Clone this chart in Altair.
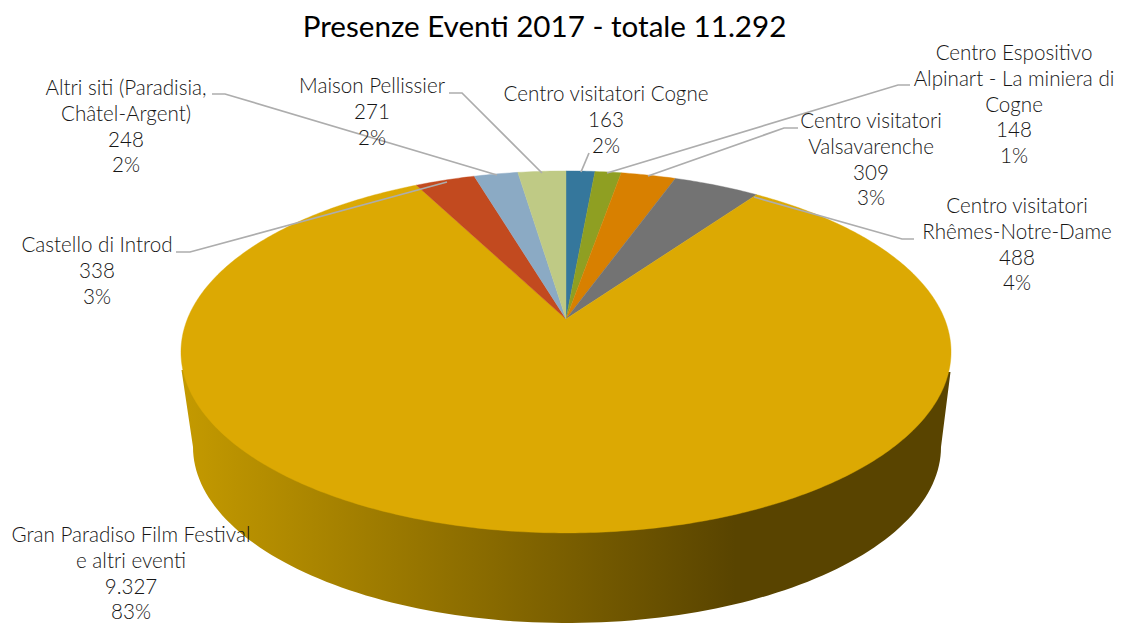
import altair as alt
import numpy as np
import pandas as pd

# ---- values
names = ["Centro visitatori Cogne", "Centro Espositivo Alpinart - La miniera di Cogne",
         "Centro visitatori Valsavarenche", "Centro visitatori Rhêmes-Notre-Dame",
         "Gran Paradiso Film Festival e altri eventi", "Castello di Introd",
         "Altri siti (Paradisia, Châtel-Argent)", "Maison Pellissier"]
values = [163, 148, 309, 488, 9327, 338, 248, 271]
value_text = ["163", "148", "309", "488", "9.327", "338", "248", "271"]
percent_text = ["2%", "1%", "3%", "4%", "83%", "3%", "2%", "2%"]
label_lines = [["Centro visitatori Cogne"],
               ["Centro Espositivo", "Alpinart - La miniera di", "Cogne"],
               ["Centro visitatori", "Valsavarenche"],
               ["Centro visitatori", "Rhêmes-Notre-Dame"],
               ["Gran Paradiso Film Festival", "e altri eventi"],
               ["Castello di Introd"],
               ["Altri siti (Paradisia,", "Châtel-Argent)"],
               ["Maison Pellissier"]]
colors = ["#35779C", "#8F9F22", "#D88000", "#737373", "#DCA903", "#C24A1F", "#8BAAC4", "#BFCA85"]
title_text = "Presenze Eventi 2017 - totale 11.292"

# ---- layout (page pixels)
FONT = "Lato"
CX, CY = 566, 319
K, A, B = 0.182, 175, 378.6
label_x = [606, 1014, 871, 1017, 131, 97, 126, 372]
label_y = [95, 54, 122, 207, 536, 246, 89, 87]
LINE_H = 25.8
leaders = [[(589, 153), (581, 172)],
           [(910, 85), (898, 85), (607, 173)],
           [(798, 128), (784, 128), (648, 176)],
           [(914, 239), (902, 239), (754, 197)],
           [],
           [(176, 252), (190, 252), (447, 182)],
           [(212, 94), (225, 94), (497, 175)],
           [(449, 93), (462, 93), (542, 173)]]


def project(t):
    X, Y = np.sin(t), -np.cos(t)
    d = 1 - K * Y
    return CX + B * X / d, CY + A * Y / d


# ---- slices from the values
total = sum(values)
rows = []
start = 0.0
for i, v in enumerate(values):
    end = start + v / total * 2 * np.pi
    ts = np.linspace(start, end, max(3, int((end - start) * 90)))
    xs, ys = project(ts)
    pts = [(CX, CY)] + list(zip(xs, ys)) + [(CX, CY)]
    for o, (x, y) in enumerate(pts):
        rows.append({"name": names[i], "x": float(x), "y": float(y), "o": o})
    start = end
slices = pd.DataFrame(rows)

# ---- side wall
LOW_CX, LOW_CY, LOW_RX, LOW_RY = 567, 447, 374, 176
wall_t = np.linspace(0, np.pi, 120)
wall_pts = [(950.5, 372)] + [(LOW_CX + LOW_RX * np.cos(t), LOW_CY + LOW_RY * np.sin(t)) for t in wall_t] + [(181.5, 370)]
wall = pd.DataFrame([{"x": float(x), "y": float(y), "o": o} for o, (x, y) in enumerate(wall_pts)])

# ---- leaders and labels
lead_rows = []
for i, line in enumerate(leaders):
    for o, (x, y) in enumerate(line):
        lead_rows.append({"id": i, "x": x, "y": y, "o": o})
lead = pd.DataFrame(lead_rows)

text_rows = []
for i in range(len(values)):
    lines = label_lines[i] + [value_text[i], percent_text[i]]
    for j, s in enumerate(lines):
        text_rows.append({"t": s, "x": label_x[i], "y": label_y[i] + j * LINE_H})
texts = pd.DataFrame(text_rows)

W, H = 1109, 616
xs = alt.Scale(domain=[8, 8 + W], nice=False, zero=False)
ys = alt.Scale(domain=[8 + H, 8], nice=False, zero=False)
X = alt.X("x:Q", scale=xs, axis=None)
Y = alt.Y("y:Q", scale=ys, axis=None)

grad = alt.Gradient(gradient="linear", x1=0, x2=1, y1=0, y2=0,
                    stops=[alt.GradientStop(offset=0, color="#C49A00"),
                           alt.GradientStop(offset=0.72, color="#594400"),
                           alt.GradientStop(offset=1, color="#594400")])

wall_layer = alt.Chart(wall).mark_line(filled=True, fill=grad, stroke=None).encode(x=X, y=Y, order="o:Q")
slice_layer = alt.Chart(slices).mark_line(filled=True, strokeWidth=0.4).encode(
    x=X, y=Y, order="o:Q",
    fill=alt.Fill("name:N", scale=alt.Scale(domain=names, range=colors), legend=None),
    stroke=alt.Stroke("name:N", scale=alt.Scale(domain=names, range=colors), legend=None),
)
lead_layer = alt.Chart(lead).mark_line(color="#ADADAD", strokeWidth=1.7).encode(
    x=X, y=Y, order="o:Q", detail="id:N")
text_layer = alt.Chart(texts).mark_text(font=FONT, fontSize=20.6, fontWeight=300, color="#161616", baseline="middle").encode(
    x=X, y=Y, text="t:N")

chart = alt.layer(wall_layer, slice_layer, lead_layer, text_layer).properties(
    width=W, height=H, padding=0, autosize=alt.AutoSizeParams(type="none"),
    title=alt.TitleParams(title_text, font=FONT, fontSize=29.6, fontWeight=400, color="#000000",
                          anchor="middle", dx=-18, offset=-36, frame="group"),
).configure_view(stroke=None)

chart.save("out.html", embed_options={"renderer": "svg", "actions": False})
